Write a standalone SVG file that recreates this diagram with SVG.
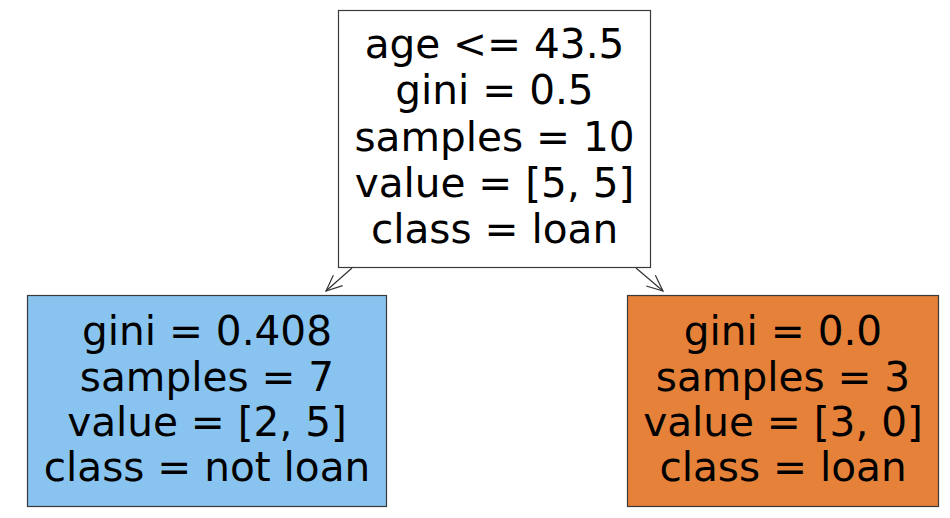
<svg xmlns="http://www.w3.org/2000/svg" width="950" height="518" viewBox="0 0 950 518">
<style>
.box{stroke:#3a3a3a;stroke-width:1.2}
.t{font-family:"DejaVu Sans",sans-serif;font-size:40.6px;fill:#000;text-anchor:middle}
.edge{stroke:#333;stroke-width:1.2;fill:none}
</style>
<defs>
<marker id="ah" viewBox="0 0 20 20" refX="19" refY="10" markerWidth="20" markerHeight="20" markerUnits="userSpaceOnUse" orient="auto">
<path d="M3,3 L19,10 L3,17" fill="none" stroke="#333" stroke-width="1.2"/>
</marker>
</defs>
<rect width="950" height="518" fill="#fff"/>
<g id="edges">
<line class="edge" x1="352" y1="268" x2="326" y2="291" marker-end="url(#ah)"/>
<line class="edge" x1="636" y1="268" x2="663" y2="291" marker-end="url(#ah)"/>
</g>
<g id="root">
<rect class="box" x="338.5" y="10.5" width="312" height="257" fill="#fff"/>
<text class="t" x="494.5" y="57.5">age &lt;= 43.5</text>
<text class="t" x="494.5" y="104">gini = 0.5</text>
<text class="t" x="494.5" y="150.5">samples = 10</text>
<text class="t" x="494.5" y="197">value = [5, 5]</text>
<text class="t" x="494.5" y="243">class = loan</text>
</g>
<g id="left">
<rect class="box" x="27.5" y="295.5" width="359" height="211" fill="#88c4ef"/>
<text class="t" x="207" y="345">gini = 0.408</text>
<text class="t" x="207" y="390.5">samples = 7</text>
<text class="t" x="207" y="436">value = [2, 5]</text>
<text class="t" x="207" y="481">class = not loan</text>
</g>
<g id="right">
<rect class="box" x="627.5" y="295.5" width="311" height="211" fill="#e58139"/>
<text class="t" x="783" y="345">gini = 0.0</text>
<text class="t" x="783" y="390.5">samples = 3</text>
<text class="t" x="783" y="436">value = [3, 0]</text>
<text class="t" x="783" y="481">class = loan</text>
</g>
</svg>
